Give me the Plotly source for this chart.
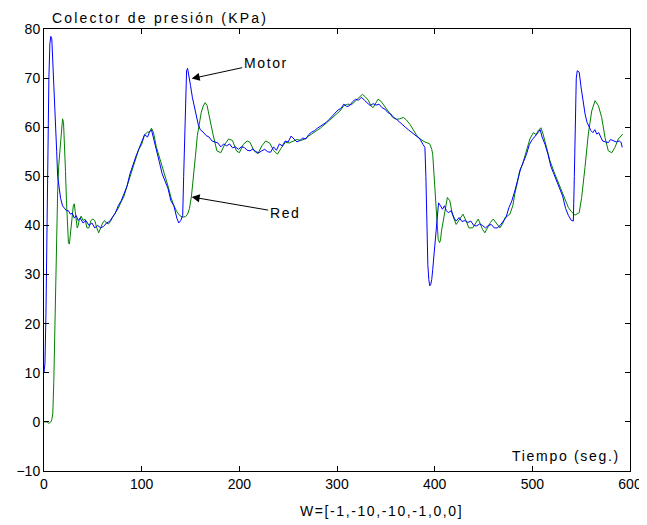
import plotly.graph_objects as go

# ---- data ----
motor_t = [0, 1, 2, 3, 4, 5, 6, 7, 8, 9, 10, 11, 12, 13, 14, 15, 17, 19, 21, 23, 25, 27, 29, 31, 33, 35, 37,
           40, 43, 46, 49, 52, 55, 58, 61, 64, 67, 70, 73, 76, 79, 82, 85, 88, 91, 94, 97, 100, 103, 106, 108,
           110, 112, 115, 118, 121, 124, 127, 130, 133, 136, 138, 140, 142, 143, 144, 145, 146, 147, 148, 150,
           152, 154, 156, 158, 160, 163, 166, 169, 172, 175, 178, 181, 184, 187, 190, 193, 196, 199, 202, 205,
           208, 211, 214, 217, 220, 223, 226, 229, 232, 235, 238, 241, 244, 247, 250, 253, 256, 259, 262, 265,
           268, 271, 274, 277, 280, 283, 286, 289, 292, 295, 298, 301, 304, 307, 310, 313, 316, 319, 322, 325,
           328, 331, 334, 337, 340, 343, 346, 349, 352, 355, 358, 361, 364, 367, 370, 373, 376, 379, 382, 385,
           388, 390, 391, 392, 393, 394, 395, 396, 397, 398, 400, 402, 404, 406, 408, 410, 412, 414, 417, 420,
           422, 425, 428, 431, 434, 437, 440, 443, 446, 449, 452, 455, 458, 461, 464, 467, 470, 473, 476, 479,
           482, 485, 488, 491, 494, 497, 500, 503, 506, 508, 510, 513, 516, 519, 522, 525, 528, 531, 534, 537,
           540, 542, 543, 544, 545, 546, 548, 550, 552, 554, 556, 558, 560, 562, 564, 566, 568, 570, 572, 575,
           578, 580, 583, 586, 589, 591, 592]
motor_p = [10, 12, 22, 40, 58, 70, 77, 78.5, 78, 74, 70, 66, 60, 55, 50, 48, 45.5, 44, 43.5, 43, 43, 42.3, 42.5,
           41.5, 42, 41, 41.5, 40.5, 41, 40, 40.5, 39.5, 40, 39.5, 39.8, 40.5, 40.8, 41.6, 42.5, 44, 45, 46.5,
           48, 50.5, 52.5, 54, 55.5, 57, 58.5, 58, 59, 59.5, 58, 55.2, 53, 50.5, 49, 47.5, 45, 44, 41.5, 40.5,
           41, 42, 50, 57, 68, 71.5, 72, 71, 68.5, 66, 64, 62, 60.5, 59.5, 59, 58.3, 58, 57.2, 57, 56.8, 56,
           56.6, 56.2, 56.6, 55.8, 56, 55.5, 56, 55.9, 55.3, 55.2, 55.6, 55, 54.8, 55.2, 55.5, 55, 54.9, 56,
           55.3, 56.6, 56.2, 57.2, 57, 58.2, 57.6, 57, 57.3, 57.8, 57.6, 58.5, 59, 59.3, 59.8, 60.2, 60.6, 61,
           61.6, 62.2, 63, 63.5, 63.8, 64.7, 64.2, 64.4, 65.2, 65.7, 65.5, 66.1, 65.5, 65, 64.4, 64.8, 64.5,
           64.7, 64, 63.7, 63, 62.7, 62, 61.6, 61, 60.5, 60, 59.5, 59, 58.5, 58, 57.6, 56.5, 55.9, 50, 40, 32,
           29, 27.7, 28, 29, 31, 35.5, 41, 44.6, 44, 43.3, 44, 43, 42.6, 43, 41.5, 40.9, 41.6, 40.8, 41, 40.6,
           40.9, 40, 39.9, 40.3, 40, 39.5, 40, 40.2, 39.5, 39.5, 40, 40.9, 41.6, 43.6, 45, 47, 49.5, 51.5, 53,
           54.5, 56.5, 57.5, 58.2, 59, 59.5, 58, 56.5, 54.5, 52, 50.5, 49, 47.5, 46, 43.5, 42, 41, 40.9, 50,
           62, 70, 71.5, 71.2, 68, 65, 62.7, 61, 60, 59.3, 58.9, 59.5, 58.6, 58.9, 58, 57.2, 57, 56.9, 57.5,
           57.2, 57, 57.2, 56.9, 55.9]

red_t = [0, 3, 5, 7, 8, 9, 10, 11, 12, 13, 14, 15, 16, 17, 18, 19, 20, 21, 22, 23, 24, 25, 26, 27, 28, 29, 30,
         31, 32, 33, 34, 35, 36, 38, 40, 42, 44, 46, 48, 50, 52, 54, 56, 58, 60, 62, 64, 66, 68, 70, 73, 76, 79,
         82, 85, 88, 91, 94, 97, 100, 103, 106, 108, 110, 112, 115, 118, 121, 124, 127, 130, 133, 136, 139,
         142, 145, 147, 149, 151, 153, 155, 157, 159, 161, 163, 165, 167, 169, 171, 173, 175, 177, 181, 185,
         189, 193, 197, 200, 204, 208, 211, 215, 219, 223, 227, 231, 235, 239, 243, 247, 251, 255, 259, 263,
         267, 271, 275, 279, 283, 287, 291, 295, 299, 303, 307, 311, 315, 319, 323, 326, 329, 332, 335, 337,
         340, 342, 345, 348, 351, 354, 357, 361, 364, 368, 371, 375, 378, 382, 386, 390, 395, 397, 398, 400,
         402, 403.6, 405, 406, 407, 409, 411, 413, 415.6, 418, 422, 425, 429, 432, 435, 439, 442, 444.6, 447,
         449, 451.4, 454, 457, 460, 463, 466.8, 470, 472, 475, 477, 480, 482, 485, 487, 490, 492, 495, 497.5,
         501, 504, 506, 508.8, 511, 514, 518, 522, 526, 530, 533, 537, 540, 543.6, 548, 550.5, 553.9, 557.3,
         560.8, 564.2, 567.6, 571, 574.4, 577.8, 581.3, 584.6, 588, 592.5]
red_p = [0, 0, -0.3, 0, 0.5, 1.6, 8, 20, 30, 40, 47, 52, 55, 58, 61, 61.7, 61, 57, 51, 45, 40, 36.5, 36.2, 38,
         41, 42.9, 44, 44.4, 43, 41, 39.5, 40, 41, 41.9, 41, 41.3, 39.5, 39.5, 41, 41.3, 41, 39.5, 38.5, 39.5,
         40.5, 41, 40.5, 40.3, 40.8, 41.6, 42.5, 43.5, 44.8, 46, 48, 50, 52, 54, 55.5, 56.5, 58.5, 59, 59,
         59.8, 59, 56, 54, 52.5, 50.5, 48, 45.7, 44, 42.8, 42, 41.7, 41.8, 42.3, 43.5, 46, 49.5, 54, 58.3, 61,
         63, 64.3, 65, 64.4, 62.7, 60.5, 58.6, 56.5, 55.2, 54.8, 56.5, 57.6, 57.3, 55.2, 54.8, 56.5, 57.2,
         56.9, 55.2, 54.6, 56.2, 57.2, 56.8, 55.3, 54.5, 55.8, 56.9, 56.8, 57.2, 57.5, 57.3, 57.6, 58.2, 58.8,
         59.3, 59.8, 60.5, 61.2, 61.8, 62.5, 63.3, 64.4, 64.7, 64.6, 65.3, 66.2, 66.7, 66.2, 65.5, 64.3, 64,
         65, 65.7, 65.3, 64.5, 63.5, 62.7, 62, 61.6, 61.7, 62, 61.5, 60.5, 59.5, 58.2, 57.5, 57, 56.6, 55.5,
         54.5, 48.4, 43, 37.2, 36.5, 37, 38.9, 41, 43, 45.7, 45, 42.3, 40.2, 41, 42.3, 41, 39.5, 39.5, 40.5,
         41.3, 40.2, 39.2, 38.5, 39.5, 40.6, 41.3, 40.5, 39.5, 40.5, 41.6, 42, 42.3, 44, 46.4, 49, 51.1, 52.5,
         53.8, 55.5, 57.6, 58.9, 58.5, 59.3, 59.9, 58.6, 56, 53.2, 51, 49, 47, 45.5, 43.6, 42.8, 42.1, 42.6,
         45.7, 51.8, 58.6, 63.3, 65.4, 64.4, 62, 57.9, 55.2, 54.8, 55.9, 57.6, 58.6]

x_ticks = [0, 100, 200, 300, 400, 500, 600]
y_ticks = [-10, 0, 10, 20, 30, 40, 50, 60, 70, 80]

title_text = "Colector de presión (KPa)"
x_label = "Tiempo (seg.)"
w_label = "W=[-1,-10,-10,-1,0,0]"

FONT = "Liberation Sans, Arial, sans-serif"


def spaced(s, px):
    return '<span style="letter-spacing:%spx">%s</span>' % (px, s)


fig = go.Figure()
fig.add_trace(go.Scatter(x=red_t, y=red_p, mode="lines", name="Red",
                         line=dict(color="#008000", width=1)))
fig.add_trace(go.Scatter(x=motor_t, y=motor_p, mode="lines", name="Motor",
                         line=dict(color="#0000ff", width=1)))

axis_common = dict(showline=True, linecolor="black", linewidth=1, mirror="ticks",
                   ticks="inside", ticklen=5, tickcolor="black", showgrid=False,
                   zeroline=False, automargin=False,
                   tickfont=dict(family=FONT, size=14, color="black"))

fig.update_layout(
    width=647, height=525,
    margin=dict(l=36, r=25, t=21, b=62),
    paper_bgcolor="white", plot_bgcolor="white",
    showlegend=False,
    xaxis=dict(range=[0, 600], tickvals=x_ticks, **axis_common),
    yaxis=dict(range=[-10, 80], tickvals=y_ticks, **axis_common),
    annotations=[
        dict(text=spaced(title_text, 2.2), xref="paper", yref="paper", x=0.01, y=1,
             xanchor="left", yanchor="bottom", yshift=1, showarrow=False,
             font=dict(family=FONT, size=14, color="black")),
        dict(text=spaced(x_label, 1.7), xref="paper", yref="paper", x=0.986, y=0.034,
             xanchor="right", yanchor="middle", showarrow=False,
             font=dict(family=FONT, size=14, color="black")),
        dict(text=spaced(w_label, 1.6), xref="paper", yref="paper", x=0.576, y=-0.091,
             xanchor="center", yanchor="middle", showarrow=False,
             font=dict(family=FONT, size=14, color="black")),
        dict(text=spaced("Motor", 1.6), x=151.2, y=69.9, xref="x", yref="y",
             ax=74, ay=-16, showarrow=True, arrowhead=2, arrowsize=1.6, arrowwidth=1,
             arrowcolor="black", font=dict(family=FONT, size=14, color="black")),
        dict(text=spaced("Red", 1.6), x=151.2, y=45.8, xref="x", yref="y",
             ax=93, ay=16, showarrow=True, arrowhead=2, arrowsize=1.6, arrowwidth=1,
             arrowcolor="black", font=dict(family=FONT, size=14, color="black")),
    ],
)

fig.write_html("out.html")
